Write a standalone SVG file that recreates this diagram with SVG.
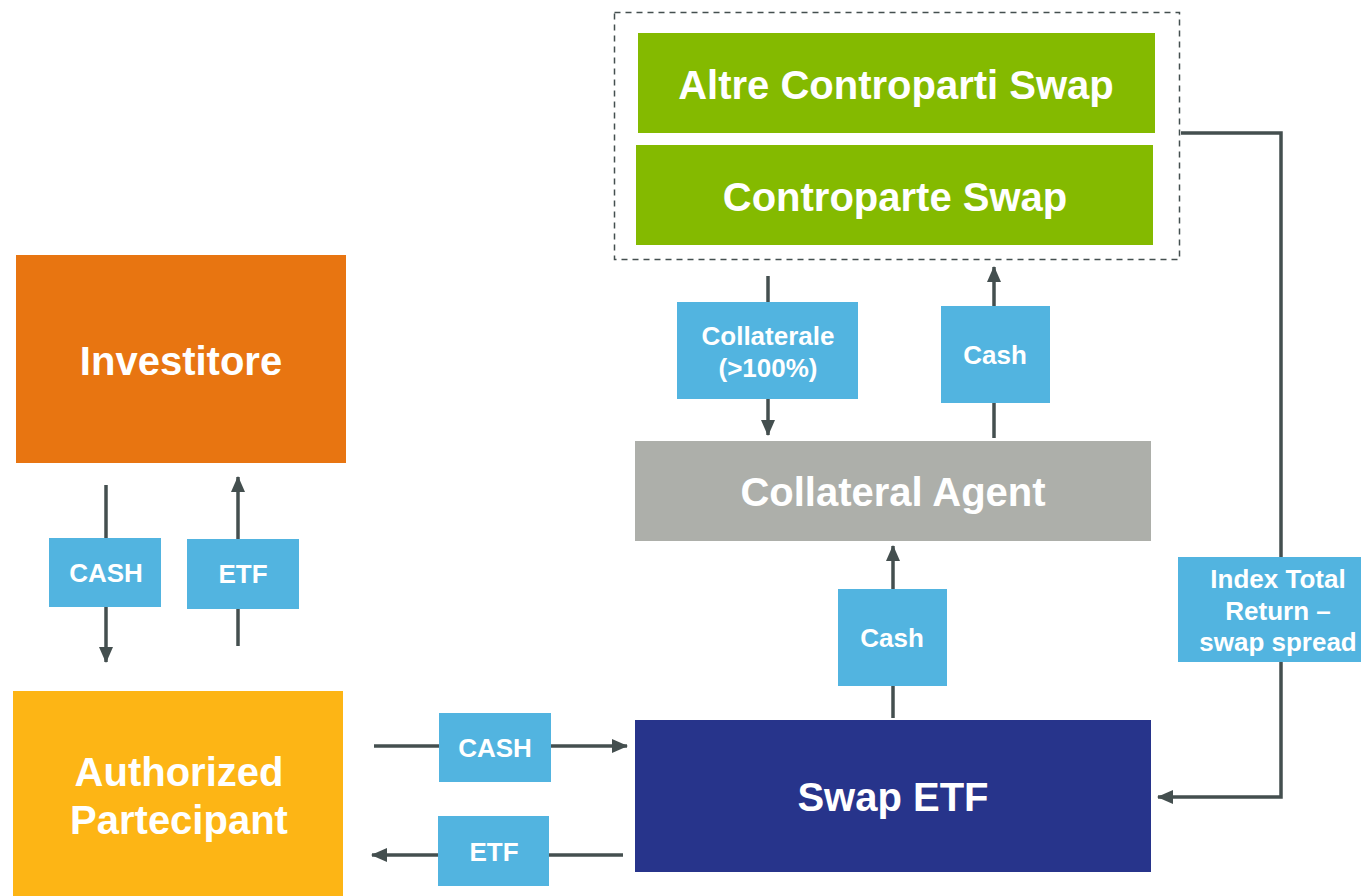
<svg xmlns="http://www.w3.org/2000/svg" width="1361" height="896" viewBox="0 0 1361 896">
<style>
.big{font-family:"Liberation Sans",Arial,sans-serif;font-weight:bold;font-size:40px;fill:#fff;text-anchor:middle}
.sm{font-family:"Liberation Sans",Arial,sans-serif;font-weight:bold;font-size:26px;fill:#fff;text-anchor:middle}
.lbl{fill:#52B4E0}
.ln{fill:none;stroke:#444F4F;stroke-width:3.5}
</style>
<defs>
<marker id="ah" markerUnits="userSpaceOnUse" markerWidth="16" markerHeight="16" viewBox="0 0 16 16" refX="15" refY="8" orient="auto">
<path d="M0,1 L16,8 L0,15 Z" fill="#444F4F"/>
</marker>
</defs>
<rect width="1361" height="896" fill="#fff"/>
<g id="connectors">
<rect x="614.5" y="12.5" width="565" height="247" fill="none" stroke="#444F4F" stroke-width="1.5" stroke-dasharray="6,5"/>
<line class="ln" x1="106" y1="485" x2="106" y2="662" marker-end="url(#ah)"/>
<line class="ln" x1="238" y1="646" x2="238" y2="477" marker-end="url(#ah)"/>
<line class="ln" x1="768" y1="276" x2="768" y2="435" marker-end="url(#ah)"/>
<line class="ln" x1="994" y1="438" x2="994" y2="267" marker-end="url(#ah)"/>
<line class="ln" x1="893" y1="718" x2="893" y2="546" marker-end="url(#ah)"/>
<line class="ln" x1="374" y1="746" x2="627" y2="746" marker-end="url(#ah)"/>
<line class="ln" x1="623" y1="855" x2="372" y2="855" marker-end="url(#ah)"/>
<path class="ln" d="M1181,133 H1281 V797 H1158" marker-end="url(#ah)"/>
</g>
<g id="altre"><rect x="638" y="33" width="517" height="100" fill="#84BA00"/><text class="big" x="896" y="99">Altre Controparti Swap</text></g>
<g id="controparte"><rect x="636" y="145" width="517" height="100" fill="#84BA00"/><text class="big" x="895" y="211">Controparte Swap</text></g>
<g id="collateral-agent"><rect x="635" y="441" width="516" height="100" fill="#ADAFAA"/><text class="big" x="893" y="506">Collateral Agent</text></g>
<g id="swap-etf"><rect x="635" y="720" width="516" height="152" fill="#27348B"/><text class="big" x="893" y="811">Swap ETF</text></g>
<g id="investitore"><rect x="16" y="255" width="330" height="208" fill="#E87511"/><text class="big" x="181" y="375">Investitore</text></g>
<g id="ap"><rect x="13" y="691" width="330" height="205" fill="#FDB515"/><text class="big" x="179" y="786">Authorized</text><text class="big" x="179" y="834">Partecipant</text></g>
<g id="lbl-cash1"><rect class="lbl" x="49" y="538" width="112" height="69"/><text class="sm" x="106" y="582">CASH</text></g>
<g id="lbl-etf1"><rect class="lbl" x="187" y="539" width="112" height="70"/><text class="sm" x="243" y="583">ETF</text></g>
<g id="lbl-collaterale"><rect class="lbl" x="677" y="302" width="181" height="97"/><text class="sm" x="768" y="345">Collaterale</text><text class="sm" x="768" y="377">(&gt;100%)</text></g>
<g id="lbl-cash2"><rect class="lbl" x="941" y="306" width="109" height="97"/><text class="sm" x="995" y="364">Cash</text></g>
<g id="lbl-cash3"><rect class="lbl" x="838" y="589" width="109" height="97"/><text class="sm" x="892" y="647">Cash</text></g>
<g id="lbl-cash4"><rect class="lbl" x="439" y="713" width="112" height="69"/><text class="sm" x="495" y="757">CASH</text></g>
<g id="lbl-etf2"><rect class="lbl" x="438" y="816" width="111" height="70"/><text class="sm" x="494" y="861">ETF</text></g>
<g id="lbl-index"><rect class="lbl" x="1178" y="557" width="183" height="105"/><text class="sm" x="1278" y="588">Index Total</text><text class="sm" x="1278" y="620">Return –</text><text class="sm" x="1278" y="651">swap spread</text></g>
</svg>
